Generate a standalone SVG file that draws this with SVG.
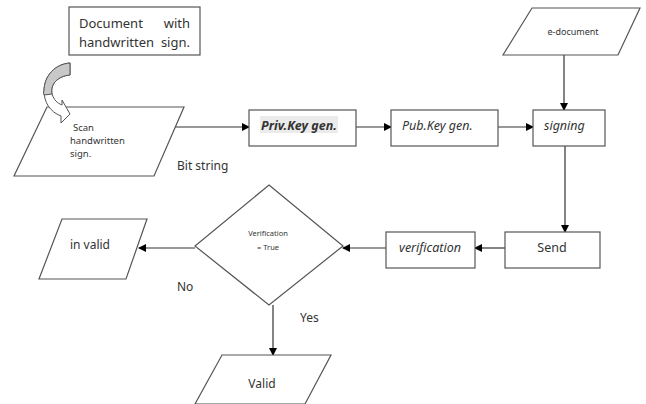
<svg xmlns="http://www.w3.org/2000/svg" width="646" height="404" viewBox="0 0 646 404">
<style>
.box{fill:#fff;stroke:#555;stroke-width:1.2}
.ln{fill:none;stroke:#333;stroke-width:1.2}
.t{font-family:"Noto Sans","Open Sans",sans-serif;fill:#333}
.c{text-anchor:middle}
.it{font-style:italic}
</style>
<defs>
<marker id="ah" markerWidth="8" markerHeight="8" refX="7" refY="4" orient="auto" markerUnits="userSpaceOnUse">
<path d="M0,0 L8,4 L0,8 Z" fill="#000"/>
</marker>
</defs>
<rect width="646" height="404" fill="#fff"/>

<g id="connectors">
<line class="ln" x1="175" y1="127" x2="249" y2="127" marker-end="url(#ah)"/>
<line class="ln" x1="356" y1="127" x2="391" y2="127" marker-end="url(#ah)"/>
<line class="ln" x1="498" y1="127" x2="533" y2="127" marker-end="url(#ah)"/>
<line class="ln" x1="564" y1="55" x2="564" y2="110" marker-end="url(#ah)"/>
<line class="ln" x1="565" y1="146" x2="565" y2="232" marker-end="url(#ah)"/>
<line class="ln" x1="505" y1="248" x2="475" y2="248" marker-end="url(#ah)"/>
<line class="ln" x1="386" y1="248" x2="343" y2="248" marker-end="url(#ah)"/>
<line class="ln" x1="195" y1="248" x2="139" y2="248" marker-end="url(#ah)"/>
<line class="ln" x1="273" y1="305" x2="273" y2="355" marker-end="url(#ah)"/>
</g>

<g id="doc">
<rect class="box" x="69" y="7" width="131" height="48"/>
<text class="t" x="79" y="28" font-size="13">Document</text>
<text class="t" x="190" y="28" font-size="13" text-anchor="end">with</text>
<text class="t" x="79" y="47" font-size="13">handwritten</text>
<text class="t" x="190" y="47" font-size="13" text-anchor="end">sign.</text>
</g>

<g id="scan">
<polygon class="box" points="47,107 184,107 154,176 14,176"/>
<text class="t" x="73" y="131" font-size="9.5">Scan</text>
<text class="t" x="70" y="144" font-size="9.5">handwritten</text>
<text class="t" x="70" y="157" font-size="9.5">sign.</text>
</g>

<g id="curved-arrow">
<path d="M70,63 L70,75 C58,76 50,84 52,94 C54,100 57,103 62,105 L62,100 L70,114 L61,123 L61,116 C50,112 44,102 44,91 C44,76 55,64 70,63 Z" fill="#fff" stroke="#555" stroke-width="1"/>
<path d="M70,63 L70,75 C58,76 50,84 52,94 L44,95 C43,92 44,91 44,91 C44,76 55,64 70,63 Z" fill="#c8c8c8" stroke="#555" stroke-width="1"/>
</g>

<text class="t" x="177" y="170" font-size="12">Bit string</text>

<g id="priv">
<rect class="box" x="249" y="110" width="107" height="36"/>
<rect x="260" y="116" width="78" height="17" fill="#ebebeb"/>
<text class="t it" x="261" y="130" font-size="12.5" font-weight="bold">Priv.Key gen.</text>
</g>

<g id="pub">
<rect class="box" x="391" y="110" width="107" height="36"/>
<text class="t it" x="402" y="130" font-size="12.5">Pub.Key gen.</text>
</g>

<g id="edoc">
<polygon class="box" points="532,8 640,8 618,55 503,55"/>
<text class="t c" x="573" y="35" font-size="9">e-document</text>
</g>

<g id="signing">
<rect class="box" x="533" y="110" width="72" height="36"/>
<text class="t it" x="544" y="130" font-size="12.5">signing</text>
</g>

<g id="send">
<rect class="box" x="505" y="232" width="95" height="36"/>
<text class="t c" x="552" y="252" font-size="12.5">Send</text>
</g>

<g id="verification">
<rect class="box" x="386" y="232" width="89" height="36"/>
<text class="t it c" x="430" y="252" font-size="12.5">verification</text>
</g>

<g id="decision">
<polygon class="box" points="269,185 343,246 269,305 195,246"/>
<text class="t c" x="268" y="236" font-size="7.5">Verification</text>
<text class="t c" x="268" y="250" font-size="7.5">= True</text>
</g>

<g id="invalid">
<polygon class="box" points="62,219 147,219 126,279 39,279"/>
<text class="t c" x="90" y="249" font-size="12">in valid</text>
</g>

<text class="t" x="177" y="291" font-size="12">No</text>
<text class="t" x="300" y="322" font-size="12">Yes</text>

<g id="valid">
<polygon class="box" points="222,355 331,355 305,404 195,404"/>
<text class="t c" x="262" y="388" font-size="12">Valid</text>
</g>
</svg>
